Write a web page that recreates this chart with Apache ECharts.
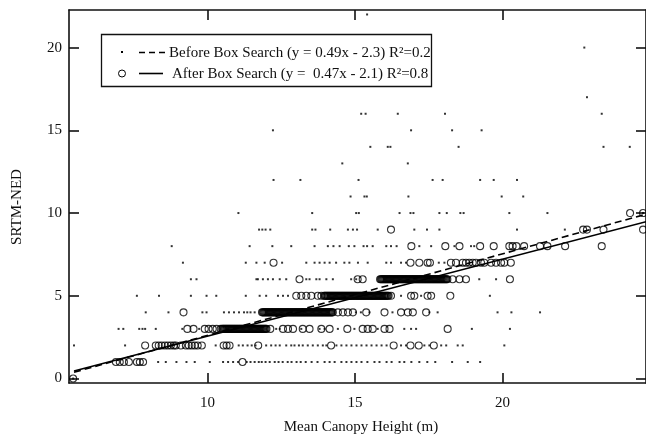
<!DOCTYPE html>
<html><head><meta charset="utf-8">
<script src="https://cdn.jsdelivr.net/npm/echarts@6/dist/echarts.min.js"></script>
<style>html,body{margin:0;padding:0;background:#fff}#c{width:646px;height:439px}</style>
</head><body><div id="c"></div>
<script>
const xTicks = [10, 15, 20];
const yTicks = [0, 5, 10, 15, 20];
const xRange = [5.31, 24.86];
const yRange = [-0.27, 22.27];
const xTitle = 'Mean Canopy Height (m)';
const yTitle = 'SRTM-NED';
const legendLabels = ['Before Box Search (y = 0.49x - 2.3) R\u00B2=0.2', 'After Box Search (y =  0.47x - 2.1) R\u00B2=0.8'];

// x values of the "before" points, one list per integer y value (index = y)
const beforeRows = [
  [5.45],
  [8.33, 8.59, 8.95, 9.29, 9.57, 10.08, 10.53, 10.70, 10.87, 11.04, 11.33, 11.46, 11.60, 11.74, 11.84, 11.97, 12.11, 12.28, 12.41, 12.55, 12.72, 12.85, 13.02, 13.16, 13.33, 13.53, 13.73, 13.97, 14.14, 14.31, 14.54, 14.71, 14.88, 15.05, 15.22, 15.42, 15.66, 15.83, 16.07, 16.24, 16.51, 16.67, 16.91, 17.18, 17.45, 17.72, 18.29, 18.82, 19.24],
  [5.48, 7.21, 10.28, 11.06, 11.20, 11.36, 11.50, 11.63, 11.99, 12.16, 12.31, 12.45, 12.67, 12.84, 12.95, 13.10, 13.23, 13.40, 13.57, 13.74, 13.91, 14.03, 14.37, 14.54, 14.71, 14.88, 15.05, 15.22, 15.39, 15.56, 15.73, 15.90, 16.07, 16.56, 16.73, 17.35, 17.52, 17.92, 18.09, 18.48, 18.65, 20.06],
  [6.99, 7.15, 7.69, 7.80, 7.89, 8.25, 9.15, 9.72, 12.33, 12.45, 13.18, 13.80, 13.97, 14.42, 14.98, 15.77, 16.67, 16.90, 17.07, 18.96, 20.25],
  [7.91, 8.68, 9.83, 9.97, 10.56, 10.73, 10.90, 11.07, 11.24, 11.35, 11.46, 11.60, 15.03, 15.20, 15.49, 16.27, 17.52, 17.80, 19.83, 20.30, 21.27],
  [7.61, 8.36, 9.44, 9.97, 10.30, 11.30, 11.77, 11.99, 12.39, 12.56, 12.73, 16.56, 17.24, 19.57],
  [9.44, 9.63, 11.66, 11.71, 11.88, 12.05, 12.22, 12.45, 12.67, 13.35, 13.46, 13.69, 13.80, 14.03, 14.25, 14.87, 15.04, 19.21, 19.78],
  [9.17, 11.30, 11.66, 11.94, 12.53, 13.35, 13.63, 13.80, 13.97, 14.14, 14.36, 14.64, 14.81, 15.10, 15.43, 16.06, 16.22, 16.56, 16.73, 17.84, 18.03],
  [8.79, 11.43, 12.20, 12.84, 13.63, 14.08, 14.27, 14.48, 14.79, 14.98, 15.29, 15.41, 15.60, 16.06, 16.22, 16.41, 17.18, 17.58, 18.37, 18.93, 19.04],
  [11.75, 11.86, 11.97, 12.13, 13.55, 13.66, 14.16, 14.76, 14.93, 15.07, 15.77, 17.01, 17.44, 17.86, 20.49, 22.11],
  [11.05, 13.55, 15.04, 15.13, 16.51, 16.88, 16.98, 17.86, 18.11, 18.57, 18.68, 20.23, 21.52, 24.76],
  [14.85, 15.32, 15.40, 16.81, 19.97, 20.70],
  [12.24, 13.15, 15.12, 17.63, 17.97, 19.24, 19.70, 20.49],
  [14.57, 16.79],
  [15.52, 16.11, 16.20, 18.51, 23.42, 24.31],
  [12.22, 16.90, 18.29, 19.29],
  [15.21, 15.36, 16.45, 18.05, 23.36],
  [22.86],
  [],
  [],
  [22.77],
  [],
  [15.41]
];

// x values of the "after" points, one list per integer y value (index = y)
const afterRows = [
  [5.45],
  [6.90, 7.03, 7.17, 7.34, 7.61, 7.71, 7.82, 11.19],
  [7.89, 8.25, 8.35, 8.45, 8.56, 8.66, 8.76, 8.86, 8.93, 9.10, 9.27, 9.37, 9.47, 9.57, 9.67, 9.81, 10.55, 10.65, 10.75, 11.72, 14.19, 16.31, 16.88, 17.16, 17.67],
  [9.32, 9.53, 9.91, 10.04, 10.18, 10.31, 10.45,
   10.50, 10.53, 10.56, 10.59, 10.62, 10.65, 10.68, 10.71, 10.74, 10.77, 10.80, 10.83, 10.86, 10.89, 10.92, 10.95, 10.98, 11.01, 11.04, 11.07, 11.10, 11.13, 11.16, 11.19, 11.22, 11.25, 11.28, 11.31, 11.34, 11.37, 11.40, 11.43, 11.46, 11.49, 11.52, 11.55, 11.58, 11.61, 11.64, 11.67, 11.70, 11.73, 11.76, 11.79, 11.82, 11.85, 11.88, 11.91, 11.94, 11.97, 12.00,
   12.13, 12.56, 12.73, 12.90, 13.23, 13.46, 13.86, 14.14, 14.74, 15.26, 15.43, 15.60, 16.00, 16.17, 18.14],
  [9.19,
   11.85, 11.88, 11.91, 11.94, 11.97, 12.00, 12.03, 12.06, 12.09, 12.12, 12.15, 12.18, 12.21, 12.24, 12.27, 12.30, 12.33, 12.36, 12.39, 12.42, 12.45, 12.48, 12.51, 12.54, 12.57, 12.60, 12.63, 12.66, 12.69, 12.72, 12.75, 12.78, 12.81, 12.84, 12.87, 12.90, 12.93, 12.96, 12.99, 13.02, 13.05, 13.08, 13.11, 13.14, 13.17, 13.20, 13.23, 13.26, 13.29, 13.32, 13.35, 13.38, 13.41, 13.44, 13.47, 13.50, 13.53, 13.56, 13.59, 13.62, 13.65, 13.68, 13.71, 13.74, 13.77, 13.80, 13.83, 13.86, 13.89, 13.92, 13.95, 13.98, 14.01, 14.04, 14.07, 14.10, 14.13, 14.16, 14.19, 14.22, 14.25,
   14.42, 14.59, 14.76, 14.93, 15.38, 16.00, 16.56, 16.79, 16.96, 17.41],
  [13.01, 13.18, 13.35, 13.52, 13.74, 13.86,
   13.95, 13.98, 14.01, 14.04, 14.07, 14.10, 14.13, 14.16, 14.19, 14.22, 14.25, 14.28, 14.31, 14.34, 14.37, 14.40, 14.43, 14.46, 14.49, 14.52, 14.55, 14.58, 14.61, 14.64, 14.67, 14.70, 14.73, 14.76, 14.79, 14.82, 14.85, 14.88, 14.91, 14.94, 14.97, 15.00, 15.03, 15.06, 15.09, 15.12, 15.15, 15.18, 15.21, 15.24, 15.27, 15.30, 15.33, 15.36, 15.39, 15.42, 15.45, 15.48, 15.51, 15.54, 15.57, 15.60, 15.63, 15.66, 15.69, 15.72, 15.75, 15.78, 15.81, 15.84, 15.87, 15.90, 15.93, 15.96, 15.99, 16.02, 16.05, 16.08, 16.11, 16.14,
   16.22, 16.90, 17.01, 17.46, 17.58, 18.23],
  [13.12, 15.09, 15.26,
   15.85, 15.88, 15.91, 15.94, 15.97, 16.00, 16.03, 16.06, 16.09, 16.12, 16.15, 16.18, 16.21, 16.24, 16.27, 16.30, 16.33, 16.36, 16.39, 16.42, 16.45, 16.48, 16.51, 16.54, 16.57, 16.60, 16.63, 16.66, 16.69, 16.72, 16.75, 16.78, 16.81, 16.84, 16.87, 16.90, 16.93, 16.96, 16.99, 17.02, 17.05, 17.08, 17.11, 17.14, 17.17, 17.20, 17.23, 17.26, 17.29, 17.32, 17.35, 17.38, 17.41, 17.44, 17.47, 17.50, 17.53, 17.56, 17.59, 17.62, 17.65, 17.68, 17.71, 17.74, 17.77, 17.80, 17.83, 17.86, 17.89, 17.92, 17.95, 17.98, 18.01, 18.04, 18.07, 18.10, 18.13,
   18.31, 18.54, 18.76, 20.25],
  [12.24, 16.88, 17.18, 17.46, 17.54, 18.25, 18.42, 18.65, 18.76, 18.87, 18.99, 19.10, 19.27, 19.38, 19.61, 19.78, 19.95, 20.06, 20.28],
  [16.91, 18.06, 18.54, 19.24, 19.70, 20.23, 20.34, 20.47, 20.73, 21.27, 21.52, 22.12, 23.36],
  [16.22, 22.73, 22.86, 23.42, 24.76],
  [24.32, 24.76]
];

// fitted lines, end points
const fitBeforeX = [5.48, 24.86];
const fitBeforeY = [0.38, 9.93];
const fitAfterX = [5.48, 24.86];
const fitAfterY = [0.45, 9.48];

const FONT = '"Liberation Serif", "Times New Roman", serif';
const INK = '#111';

function rowsToData(rows) {
  const out = [];
  rows.forEach((xs, y) => xs.forEach(x => out.push([x, y])));
  return out;
}
function pairs(xs, ys) { return xs.map((x, i) => [x, ys[i]]); }

const chart = echarts.init(document.getElementById('c'), null, {renderer: 'canvas'});

function axisCommon(showLabel, ticks, margin) {
  return {
    type: 'value',
    axisLine: {show: true, onZero: false, lineStyle: {color: INK, width: 1.6}},
    axisTick: {show: true, inside: true, length: 10, customValues: ticks, lineStyle: {color: INK, width: 1.6}},
    axisLabel: {show: showLabel, customValues: ticks, margin: margin, color: INK, fontFamily: FONT, fontSize: 15},
    splitLine: {show: false},
    minorTick: {show: false}
  };
}

const xBottom = Object.assign(axisCommon(true, xTicks, 13), {position: 'bottom', min: xRange[0], max: xRange[1]});
const xTop = Object.assign(axisCommon(false, xTicks, 8), {position: 'top', min: xRange[0], max: xRange[1]});
const yLeft = Object.assign(axisCommon(true, yTicks, 7), {position: 'left', min: yRange[0], max: yRange[1]});
const yRight = Object.assign(axisCommon(false, yTicks, 8), {position: 'right', min: yRange[0], max: yRange[1]});

const option = {
  animation: false,
  backgroundColor: '#fff',
  grid: {left: 69, right: -1, top: 10, bottom: 56, containLabel: false},
  xAxis: [xBottom, xTop],
  yAxis: [yLeft, yRight],
  series: [
    {
      type: 'scatter', name: 'before', xAxisIndex: 0, yAxisIndex: 0,
      symbol: 'rect', symbolSize: 2, silent: true,
      itemStyle: {color: '#000'},
      data: rowsToData(beforeRows), z: 2
    },
    {
      type: 'scatter', name: 'after', xAxisIndex: 0, yAxisIndex: 0,
      symbol: 'circle', symbolSize: 7, silent: true,
      itemStyle: {color: 'rgba(255,255,255,0)', borderColor: '#000', borderWidth: 1.1},
      data: rowsToData(afterRows), z: 3
    },
    {
      type: 'line', name: 'fitBefore', xAxisIndex: 0, yAxisIndex: 0,
      showSymbol: false, silent: true,
      lineStyle: {color: '#000', width: 1.6, type: [7, 4]},
      data: pairs(fitBeforeX, fitBeforeY), z: 4
    },
    {
      type: 'line', name: 'fitAfter', xAxisIndex: 0, yAxisIndex: 0,
      showSymbol: false, silent: true,
      lineStyle: {color: '#000', width: 1.6},
      data: pairs(fitAfterX, fitAfterY), z: 4
    }
  ],
  graphic: [
    {type: 'rect', z: 100, shape: {x: 101.5, y: 34.5, width: 330, height: 52},
     style: {fill: '#fff', stroke: INK, lineWidth: 1.3}},
    {type: 'rect', z: 101, shape: {x: 121, y: 51, width: 2, height: 2}, style: {fill: '#000'}},
    {type: 'line', z: 101, shape: {x1: 139, y1: 52.5, x2: 169, y2: 52.5},
     style: {stroke: '#000', lineWidth: 1.6, lineDash: [6, 4]}},
    {type: 'text', z: 101, x: 169, y: 53,
     style: {text: legendLabels[0], font: '15px ' + FONT, fill: INK, textAlign: 'left', textVerticalAlign: 'middle', align: 'left', verticalAlign: 'middle'}},
    {type: 'circle', z: 101, shape: {cx: 122, cy: 73.5, r: 3.5}, style: {fill: 'none', stroke: '#000', lineWidth: 1}},
    {type: 'line', z: 101, shape: {x1: 139, y1: 73.5, x2: 163, y2: 73.5},
     style: {stroke: '#000', lineWidth: 1.6}},
    {type: 'text', z: 101, x: 172, y: 74,
     style: {text: legendLabels[1], font: '15px ' + FONT, fill: INK, textAlign: 'left', textVerticalAlign: 'middle', align: 'left', verticalAlign: 'middle'}},
    {type: 'text', z: 101, x: 361, y: 427,
     style: {text: xTitle, font: '15px ' + FONT, fill: INK, textAlign: 'center', textVerticalAlign: 'middle', align: 'center', verticalAlign: 'middle'}},
    {type: 'text', z: 101, x: 17, y: 207, rotation: Math.PI / 2,
     style: {text: yTitle, font: '15px ' + FONT, fill: INK, textAlign: 'center', textVerticalAlign: 'middle', align: 'center', verticalAlign: 'middle'}}
  ]
};
chart.setOption(option);
</script>
</body></html>
